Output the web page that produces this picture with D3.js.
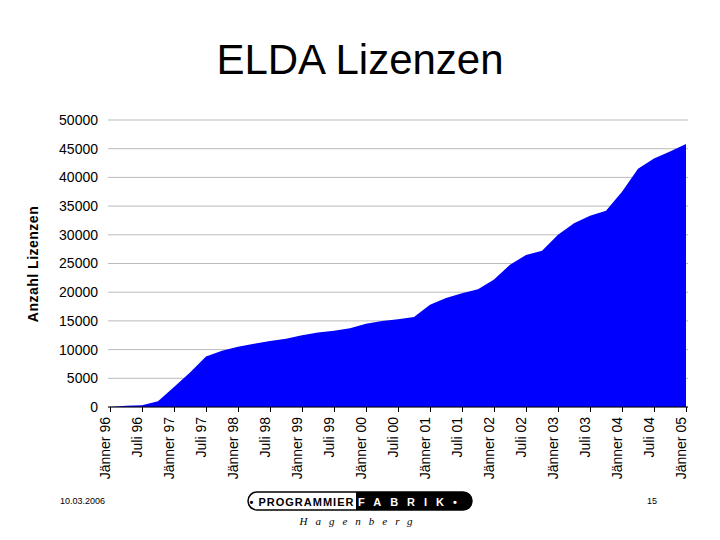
<!DOCTYPE html>
<html><head><meta charset="utf-8">
<script src="https://cdn.jsdelivr.net/npm/d3@7"></script>
<style>body{margin:0;background:#fff}</style></head>
<body><svg id="c" width="720" height="540"></svg>
<script>
const months = [0,3,6,9,12,15,18,21,24,27,30,33,36,39,42,45,48,51,54,57,60,63,66,69,72,75,78,81,84,87,90,93,96,99,102,105,108];
const values = [0,200,300,1000,3500,6000,8800,9800,10500,11000,11500,11900,12500,13000,13300,13700,14500,15000,15300,15700,17800,19000,19800,20500,22200,24800,26500,27200,30000,32000,33300,34200,37500,41500,43300,44500,45800];
const tickLabels = ["Jänner 96","Juli 96","Jänner 97","Juli 97","Jänner 98","Juli 98","Jänner 99","Juli 99","Jänner 00","Juli 00","Jänner 01","Juli 01","Jänner 02","Juli 02","Jänner 03","Juli 03","Jänner 04","Juli 04","Jänner 05"];
const yTicks = [0,5000,10000,15000,20000,25000,30000,35000,40000,45000,50000];

const svg = d3.select("#c");
const x = d3.scaleLinear().domain([0,108]).range([110,686]);
const y = d3.scaleLinear().domain([0,50000]).range([407,120]);
const F = "Liberation Sans, Arial, sans-serif";

svg.append("text").attr("x",360).attr("y",74).attr("text-anchor","middle")
  .attr("font-family",F).attr("font-size",42).text("ELDA Lizenzen");

svg.append("g").selectAll("line").data(yTicks).join("line")
  .attr("x1",108).attr("x2",688).attr("y1",d=>y(d)).attr("y2",d=>y(d))
  .attr("stroke","#bbb").attr("stroke-width",1);

svg.append("path").datum(months.map((m,i)=>[m,values[i]]))
  .attr("fill","#0000ff")
  .attr("d",d3.area().x(d=>x(d[0])).y0(y(0)).y1(d=>y(d[1])));

const ya = svg.append("g").attr("transform","translate(108,0)")
  .call(d3.axisLeft(y).tickValues(yTicks).tickSize(0).tickPadding(10).tickFormat(d3.format("d")));
ya.select(".domain").remove();
ya.selectAll("text").attr("font-family",F).attr("font-size",14).attr("fill","#000");

svg.append("line").attr("x1",108).attr("x2",688).attr("y1",407).attr("y2",407).attr("stroke","#000");
const xa = svg.append("g").attr("transform","translate(0,407)")
  .call(d3.axisBottom(x).tickValues(d3.range(0,109,6)).tickSize(5).tickFormat((d,i)=>tickLabels[i]));
xa.select(".domain").remove();
xa.selectAll("text").attr("font-family",F).attr("font-size",14).attr("fill","#000")
  .attr("text-anchor","end").attr("transform","translate(-5,4) rotate(-90)").attr("dy","0.35em").attr("dx","0").attr("y",0).attr("x",-6);

svg.append("text").attr("transform","translate(38,264) rotate(-90)").attr("text-anchor","middle")
  .attr("font-family",F).attr("font-size",14).attr("font-weight","bold").attr("letter-spacing",0.5).text("Anzahl Lizenzen");

svg.append("text").attr("x",60).attr("y",504).attr("font-family",F).attr("font-size",9).text("10.03.2006");
svg.append("text").attr("x",647).attr("y",504).attr("font-family",F).attr("font-size",9).text("15");
const g = svg.append("g");
g.append("rect").attr("x",248).attr("y",492).attr("width",224).attr("height",18).attr("rx",9).attr("fill","#fff").attr("stroke","#000").attr("stroke-width",1.5);
g.append("path").attr("d","M356,492 H463 A9,9 0 0 1 463,510 H356 Z").attr("fill","#000");
g.append("text").attr("x",302).attr("y",506).attr("text-anchor","middle").attr("font-family",F).attr("font-size",11).attr("font-weight","bold").attr("letter-spacing",1).text("• PROGRAMMIER");
g.append("text").attr("x",412).attr("y",506).attr("text-anchor","middle").attr("font-family",F).attr("font-size",11).attr("font-weight","bold").attr("fill","#fff").attr("letter-spacing",9).text("FABRIK•");
g.append("text").attr("x",360).attr("y",525).attr("text-anchor","middle").attr("font-family","Liberation Serif, serif").attr("font-style","italic").attr("font-size",11).attr("letter-spacing",8).text("Hagenberg");
</script></body></html>
